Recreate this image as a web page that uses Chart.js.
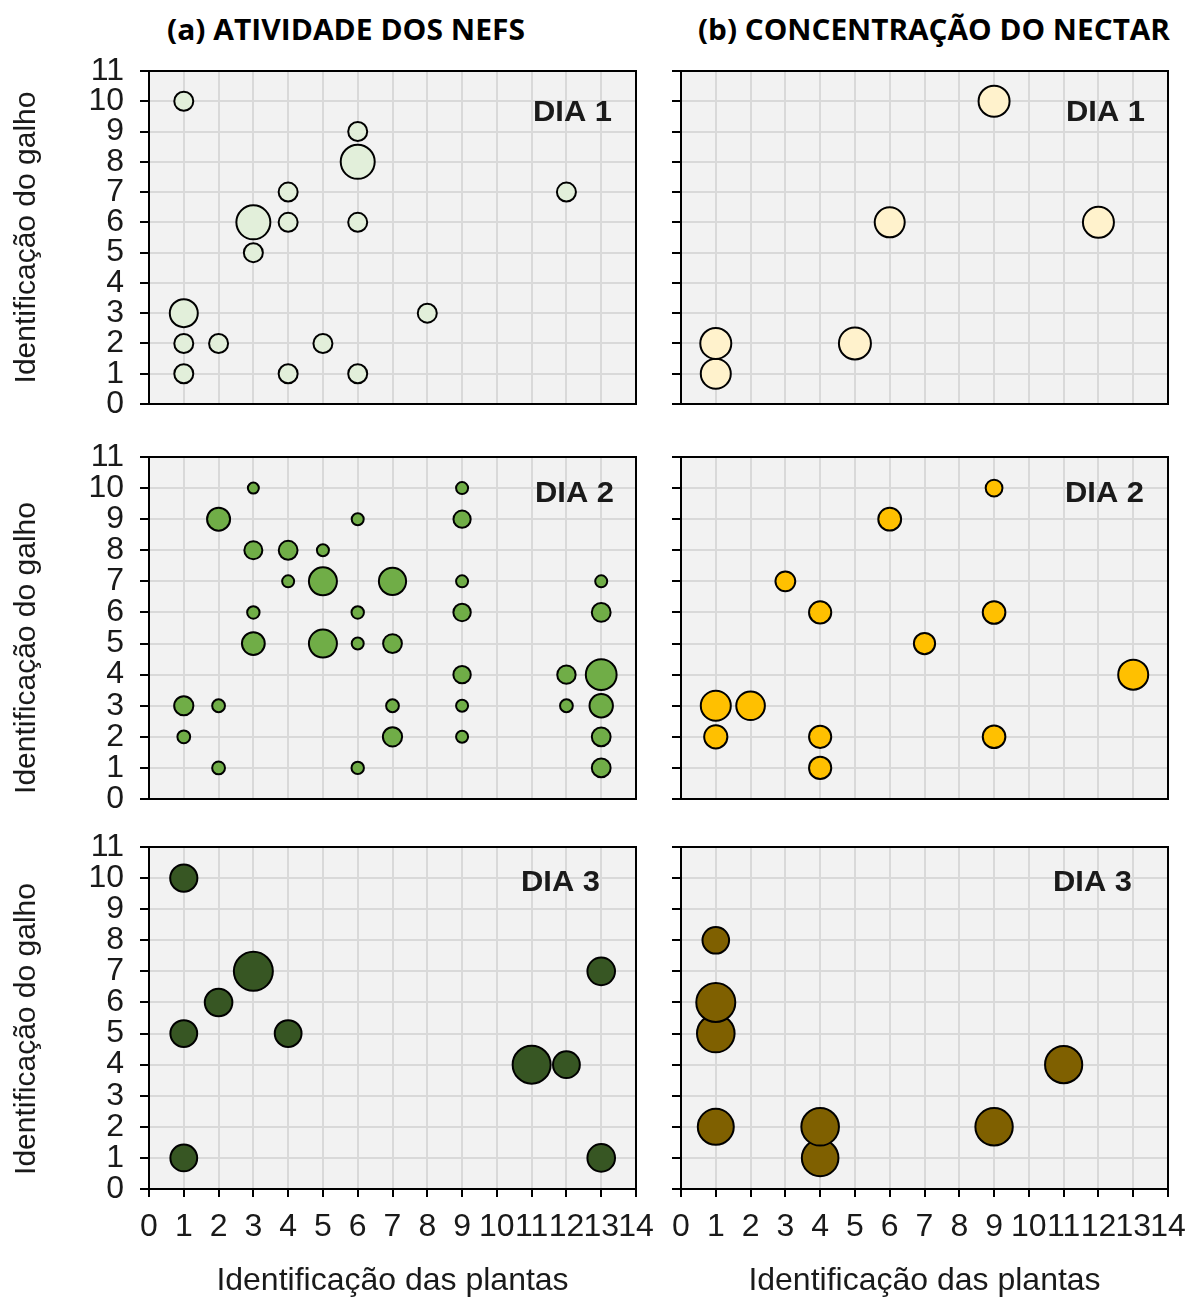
<!DOCTYPE html>
<html>
<head>
<meta charset="utf-8">
<script src="https://cdn.jsdelivr.net/npm/chart.js@4.4.1/dist/chart.umd.min.js"></script>
<style>
html,body{margin:0;padding:0;background:#fff;}
body{width:1187px;height:1302px;position:relative;overflow:hidden;}
.panel{position:absolute;}
.ttl{position:absolute;font-family:"Open Sans",Lato,sans-serif;font-weight:700;font-size:28px;line-height:28px;white-space:nowrap;transform-origin:0 0;color:#000;}
</style>
</head>
<body>
<div class="ttl" id="title0"></div>
<div class="ttl" id="title1"></div>
<script>
// ---------- text ----------
const columnTitles = ['(a) ATIVIDADE DOS NEFS', '(b) CONCENTRAÇÃO DO NECTAR'];
const dayLabels = ['DIA 1', 'DIA 2', 'DIA 3'];
const yAxisTitle = 'Identificação do galho';
const xAxisTitle = 'Identificação das plantas';
const xTickLabels = ['0','1','2','3','4','5','6','7','8','9','10','11','12','13','14'];
const yTickLabels = ['0','1','2','3','4','5','6','7','8','9','10','11'];

// ---------- (a) atividade dos NEFs ----------
const nefsDia1Plant  = [1, 6, 6, 4, 12, 3, 4, 6, 3, 1, 8, 1, 2, 5, 1, 4, 6];
const nefsDia1Branch = [10, 9, 8, 7, 7, 6, 6, 6, 5, 3, 3, 2, 2, 2, 1, 1, 1];
const nefsDia1Size   = [9.5, 9.5, 17, 9.5, 9.5, 17, 9.5, 9.5, 9.5, 14, 9.5, 9.5, 9.5, 9.5, 9.5, 9.5, 9.5];

const nefsDia2Plant  = [3, 9, 2, 6, 9, 3, 4, 5, 4, 5, 7, 9, 13, 3, 6, 9, 13, 3, 5, 6, 7, 9, 12, 13, 1, 2, 7, 9, 12, 13, 1, 7, 9, 13, 2, 6, 13];
const nefsDia2Branch = [10, 10, 9, 9, 9, 8, 8, 8, 7, 7, 7, 7, 7, 6, 6, 6, 6, 5, 5, 5, 5, 4, 4, 4, 3, 3, 3, 3, 3, 3, 2, 2, 2, 2, 1, 1, 1];
const nefsDia2Size   = [5.5, 6, 11.5, 6, 8.6, 9, 9.4, 6, 6, 14, 13.6, 6, 6, 6.2, 6.2, 8.7, 9.4, 11.4, 14, 6, 9.4, 8.7, 9.2, 15.4, 9.6, 6.4, 6.4, 6, 6.4, 11.7, 6.4, 9.6, 6, 9.4, 6.4, 6.2, 9.4];

const nefsDia3Plant  = [1, 3, 13, 2, 1, 4, 11, 12, 1, 13];
const nefsDia3Branch = [10, 7, 7, 6, 5, 5, 4, 4, 1, 1];
const nefsDia3Size   = [13.6, 19.5, 13.8, 13.8, 13.4, 13.4, 19, 13.4, 13.4, 13.8];

// ---------- (b) concentração do néctar ----------
const nectarDia1Plant  = [9, 6, 12, 5, 1, 1];
const nectarDia1Branch = [10, 6, 6, 2, 1, 2];
const nectarDia1Size   = [15.5, 15, 15.5, 16, 15, 15.5];

const nectarDia2Plant  = [9, 6, 3, 4, 9, 7, 13, 1, 2, 1, 4, 9, 4];
const nectarDia2Branch = [10, 9, 7, 6, 6, 5, 4, 3, 3, 2, 2, 2, 1];
const nectarDia2Size   = [8.4, 11.4, 9.9, 11.1, 11.3, 10.6, 15, 15, 14.3, 11.6, 11.1, 11.3, 11.1];

const nectarDia3Plant  = [1, 1, 1, 11, 1, 9, 4, 4];
const nectarDia3Branch = [8, 5, 6, 4, 2, 2, 1, 2];
const nectarDia3Size   = [13.3, 18.8, 19.5, 18.6, 18, 18.7, 18.3, 18.8];

// ---------- layout / style ----------
const FONT = '"Liberation Sans", Arial, sans-serif';
const PAD = 40;
const COLS = [
  {left: 0,   areaRight: 636,  yAxisWidth: 149, dayRight: [24, 22, 36]},
  {left: 656, areaRight: 1168, yAxisWidth: 25,  dayRight: [23, 24, 36]}
];
const ROWS = [
  {areaTop: 71,  areaBottom: 404,  dayY: 39, titleShift: 0},
  {areaTop: 457, areaBottom: 799,  dayY: 34, titleShift: 20},
  {areaTop: 847, areaBottom: 1189, dayY: 33, titleShift: 11}
];
const TITLE_POS = [{left: 167, baseline: 40, width: 358}, {left: 698, baseline: 40, width: 472}];

const panels = [
  {col: 0, row: 0, plant: nefsDia1Plant, branch: nefsDia1Branch, size: nefsDia1Size, color: '#e2efda'},
  {col: 1, row: 0, plant: nectarDia1Plant, branch: nectarDia1Branch, size: nectarDia1Size, color: '#fff2cc'},
  {col: 0, row: 1, plant: nefsDia2Plant, branch: nefsDia2Branch, size: nefsDia2Size, color: '#70ad47'},
  {col: 1, row: 1, plant: nectarDia2Plant, branch: nectarDia2Branch, size: nectarDia2Size, color: '#ffc000'},
  {col: 0, row: 2, plant: nefsDia3Plant, branch: nefsDia3Branch, size: nefsDia3Size, color: '#375623'},
  {col: 1, row: 2, plant: nectarDia3Plant, branch: nectarDia3Branch, size: nectarDia3Size, color: '#7f6000'}
];

function framePlugin(p) {
  const col = COLS[p.col], row = ROWS[p.row];
  return {
    id: 'frame' + p.col + p.row,
    beforeDraw(chart) {
      const {ctx, chartArea: a} = chart;
      ctx.save();
      ctx.fillStyle = '#f2f2f2';
      ctx.fillRect(a.left, a.top, a.right - a.left, a.bottom - a.top);
      ctx.restore();
    },
    beforeDatasetsDraw(chart) {
      const {ctx, chartArea: a} = chart;
      ctx.save();
      ctx.strokeStyle = '#000';
      ctx.lineWidth = 2;
      ctx.strokeRect(a.left, a.top, a.right - a.left, a.bottom - a.top);
      ctx.restore();
    },
    afterDraw(chart) {
      const {ctx, chartArea: a} = chart;
      // day label
      ctx.save();
      ctx.font = 'bold 30px ' + FONT;
      ctx.fillStyle = '#1a1a1a';
      const label = dayLabels[p.row];
      const w = ctx.measureText(label).width;
      const sx = 79 / w;
      ctx.translate(a.right - col.dayRight[p.row], a.top + row.dayY + 10.7);
      ctx.scale(sx, 1);
      ctx.textAlign = 'right';
      ctx.textBaseline = 'alphabetic';
      ctx.fillText(label, 0, 0);
      ctx.restore();
      // y axis title (left column only)
      if (p.col === 0) {
        ctx.save();
        ctx.font = '30px ' + FONT;
        ctx.fillStyle = '#1a1a1a';
        ctx.translate(27, (a.top + a.bottom) / 2 + row.titleShift);
        ctx.rotate(-Math.PI / 2);
        ctx.textAlign = 'center';
        ctx.textBaseline = 'middle';
        ctx.fillText(yAxisTitle, 0, 0);
        ctx.restore();
      }
    }
  };
}

function makeChart(p) {
  const col = COLS[p.col], row = ROWS[p.row];
  const isBottom = p.row === 2;
  const top = row.areaTop - PAD;
  const height = isBottom ? (1302 - top) : (row.areaBottom - row.areaTop + 2 * PAD);
  const width = col.areaRight + PAD - col.left;
  const div = document.createElement('div');
  div.className = 'panel';
  div.style.left = col.left + 'px';
  div.style.top = top + 'px';
  div.style.width = width + 'px';
  div.style.height = height + 'px';
  const canvas = document.createElement('canvas');
  div.appendChild(canvas);
  document.body.appendChild(div);

  const data = p.plant.map((x, i) => ({x: x, y: p.branch[i], r: p.size[i]}));

  new Chart(canvas, {
    type: 'bubble',
    data: {
      datasets: [{
        label: dayLabels[p.row],
        data: data,
        backgroundColor: p.color,
        borderColor: '#000',
        borderWidth: 2,
        hoverBorderWidth: 2,
        hoverRadius: 0
      }]
    },
    options: {
      responsive: true,
      maintainAspectRatio: false,
      animation: false,
      events: [],
      layout: {padding: {top: PAD, left: 0, right: PAD, bottom: isBottom ? 0 : PAD}},
      plugins: {legend: {display: false}, tooltip: {enabled: false}},
      scales: {
        x: {
          type: 'linear', position: 'bottom', min: 0, max: 14,
          afterFit: s => { s.height = isBottom ? (1302 - row.areaBottom) : 0; },
          ticks: {
            display: isBottom, stepSize: 1, autoSkip: false, maxRotation: 0, minRotation: 0,
            padding: 11, font: {family: FONT, size: 32}, color: '#1a1a1a',
            callback: v => xTickLabels[Math.round(v)]
          },
          grid: {color: '#d9d9d9', lineWidth: 2, drawTicks: isBottom, tickLength: 8, tickColor: '#000', tickWidth: 2},
          border: {display: true, color: '#000', width: 2},
          title: {display: isBottom, text: xAxisTitle, font: {family: FONT, size: 32}, color: '#1a1a1a', padding: {top: 0, bottom: 2}}
        },
        y: {
          type: 'linear', position: 'left', min: 0, max: 11,
          afterFit: s => { s.width = col.yAxisWidth; },
          ticks: {
            display: p.col === 0, stepSize: 1, autoSkip: false, padding: 16,
            font: {family: FONT, size: 32}, color: '#1a1a1a',
            callback: v => yTickLabels[Math.round(v)]
          },
          grid: {color: '#d9d9d9', lineWidth: 2, drawTicks: true, tickLength: 9, tickColor: '#000', tickWidth: 2},
          border: {display: true, color: '#000', width: 2}
        }
      }
    },
    plugins: [framePlugin(p)]
  });
}

panels.forEach(makeChart);

// column titles (real HTML text), fitted to the reference width
columnTitles.forEach((t, i) => {
  const el = document.getElementById('title' + i);
  el.textContent = t;
  const pos = TITLE_POS[i];
  const w = el.getBoundingClientRect().width;
  el.style.left = pos.left + 'px';
  el.style.top = (pos.baseline - 24.9) + 'px';
  el.style.transform = 'scaleX(' + (pos.width / w) + ')';
});
</script>
</body>
</html>
